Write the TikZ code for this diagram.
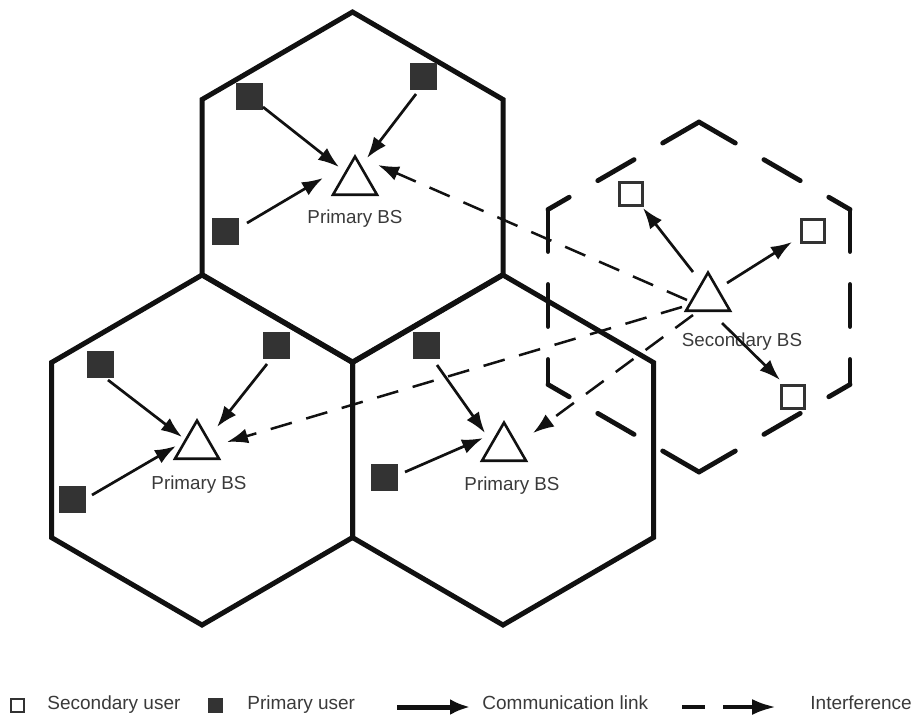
\documentclass[tikz,border=0pt]{standalone}
\usepackage{fontspec}
\setmainfont{Liberation Sans}
\usetikzlibrary{arrows.meta,calc,shapes.geometric}
\definecolor{ink}{HTML}{111111}
\definecolor{userfill}{HTML}{333333}
\definecolor{labelgray}{HTML}{3A3A3A}
\begin{document}
\begin{tikzpicture}[x=0.5pt,y=-0.5pt,
  cell/.style={draw=ink, line width=2.5pt, line join=miter},
  cellrim/.style={draw=ink, line width=2.4pt, line cap=round, dash pattern=on 21pt off 16.5pt},
  bs/.style={regular polygon, regular polygon sides=3, minimum size=25.4pt, inner sep=0pt,
             draw=ink, line width=1.3pt, fill=white},
  puser/.style={rectangle, minimum size=13.5pt, inner sep=0pt, fill=userfill, draw=none},
  suser/.style={rectangle, minimum size=11.5pt, inner sep=0pt, fill=white, draw=userfill, line width=1.5pt},
  lbl/.style={text=labelgray, font=\fontsize{9.4}{11}\selectfont, inner sep=0pt},
  legtxt/.style={text=labelgray, font=\fontsize{9.5}{11}\selectfont, inner sep=0pt, anchor=base west},
  comm/.style={draw=ink, line width=1.35pt, -{Latex[length=10.5pt,width=7.5pt]}},
  intf/.style={draw=ink, line width=1.25pt, dash pattern=on 11pt off 7.5pt, -{Latex[length=10.5pt,width=7.5pt]}},
]
\useasboundingbox (0,0) rectangle (914,714);

% cell centres
\coordinate (ct) at (352.5,187);
\coordinate (cl) at (202,450);
\coordinate (cr) at (503,450);
\coordinate (cs) at (699,297);

% primary cells
\foreach \c in {ct,cl,cr}
  \draw[cell] ($(\c)+(0,-175)$) -- ($(\c)+(-150.5,-87.5)$) -- ($(\c)+(-150.5,87.5)$)
    -- ($(\c)+(0,175)$) -- ($(\c)+(150.5,87.5)$) -- ($(\c)+(150.5,-87.5)$) -- cycle;

% secondary cell: each side dashed from its own starting corner
\coordinate (sT)  at ($(cs)+(0,-175)$);
\coordinate (sB)  at ($(cs)+(0,175)$);
\coordinate (sUL) at ($(cs)+(-151,-87.5)$);
\coordinate (sLL) at ($(cs)+(-151,87.5)$);
\coordinate (sUR) at ($(cs)+(151,-87.5)$);
\coordinate (sLR) at ($(cs)+(151,87.5)$);
\draw[cellrim] (sT) -- (sUL);
\draw[cellrim] (sT) -- (sUR);
\draw[cellrim] (sUL) -- (sLL);
\draw[cellrim] (sUR) -- (sLR);
\draw[cellrim] (sB) -- (sLL);
\draw[cellrim] (sB) -- (sLR);

% base stations
\node[bs] (tbs) at (355,182) {};
\node[bs] (lbs) at (197,446) {};
\node[bs] (rbs) at (504,448) {};
\node[bs] (sbs) at (708,298) {};

\node[lbl, anchor=base] (tbsl) at (355,223) {Primary BS};
\node[lbl, anchor=base] (lbsl) at (199,489) {Primary BS};
\node[lbl, anchor=base] (rbsl) at (512,490) {Primary BS};
\node[lbl, anchor=base] (sbsl) at (742,346) {Secondary BS};

% primary users
\node[puser] (pt1) at (249,96) {};
\node[puser] (pt2) at (423,76) {};
\node[puser] (pt3) at (225,231) {};
\node[puser] (pl1) at (100,364) {};
\node[puser] (pl2) at (276,345) {};
\node[puser] (pl3) at (72,499) {};
\node[puser] (pr1) at (426,345) {};
\node[puser] (pr2) at (384,477) {};

% secondary users
\node[suser] (su1) at (631,194) {};
\node[suser] (su2) at (813,231) {};
\node[suser] (su3) at (793,397) {};

% interference from the secondary base station
\draw[intf] ($(sbs)+(-21,2)$)  -- ($(tbs)+(23,-17)$);
\draw[intf] ($(sbs)+(-26,9)$)  -- ($(lbs)+(30,-4)$);
\draw[intf] ($(sbs)+(-15,17)$) -- ($(rbs)+(29,-15)$);

% primary uplinks
\draw[comm] ($(pt1)+(14,11)$)  -- ($(tbs)+(-16,-15)$);
\draw[comm] ($(pt2)+(-7,18)$)  -- ($(tbs)+(12,-24)$);
\draw[comm] ($(pt3)+(22,-8)$)  -- ($(tbs)+(-32,-4)$);
\draw[comm] ($(pl1)+(8,16)$)   -- ($(lbs)+(-15,-9)$);
\draw[comm] ($(pl2)+(-9,19)$)  -- ($(lbs)+(20,-19)$);
\draw[comm] ($(pl3)+(20,-4)$)  -- ($(lbs)+(-21,0)$);
\draw[comm] ($(pr1)+(11,20)$)  -- ($(rbs)+(-19,-15)$);
\draw[comm] ($(pr2)+(21,-5)$)  -- ($(rbs)+(-21,-10)$);

% secondary downlinks
\draw[comm] ($(sbs)+(-15,-26)$) -- ($(su1)+(12,14)$);
\draw[comm] ($(sbs)+(19,-15)$)  -- ($(su2)+(-21,11)$);
\draw[comm] ($(sbs)+(14,25)$)   -- ($(su3)+(-13,-17)$);

% legend
\node[suser, minimum size=6.6pt, line width=0.8pt] (lsu) at (17.5,705.5) {};
\node[legtxt] (lsut) at (47,709) {Secondary user};
\node[puser, minimum size=7.2pt] (lpu) at (215.5,705.5) {};
\node[legtxt] (lput) at (247,709) {Primary user};
\coordinate (lca) at (397,707);
\coordinate (lcb) at (470,707);
\draw[draw=ink, line width=2.5pt, -{Latex[length=10pt,width=8pt]}] (lca) -- (lcb);
\node[legtxt] (lcat) at (482,709) {Communication link};
\coordinate (lia) at (682,707);
\coordinate (lib) at (776,707);
\draw[draw=ink, line width=2pt, dash pattern=on 11.5pt off 9pt on 20pt off 9pt,
      -{Latex[length=12pt,width=8pt]}] (lia) -- (lib);
\node[legtxt] (lint) at (810,709) {Interference};
\end{tikzpicture}
\end{document}
